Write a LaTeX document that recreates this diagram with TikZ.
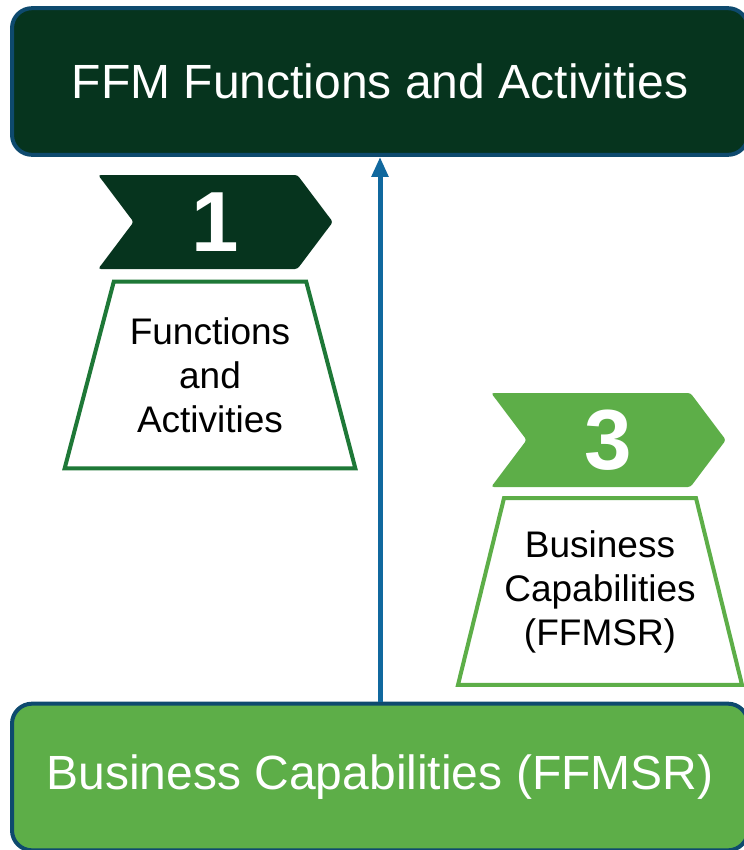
\documentclass[tikz,border=0pt]{standalone}
\usepackage{fontspec}
\setmainfont{Liberation Sans}
\usetikzlibrary{arrows.meta, shapes.geometric, shapes.symbols}
\definecolor{ffmdark}{RGB}{6,52,30}
\definecolor{ffmlight}{RGB}{93,174,72}
\definecolor{ffmmid}{RGB}{30,120,55}
\definecolor{ffmedge}{RGB}{14,74,110}
\definecolor{ffmarrow}{RGB}{16,104,158}

\tikzset{
  bigbox/.style={rectangle, rounded corners=15pt, draw=ffmedge, line width=3pt,
    minimum width=552pt, minimum height=110pt, text=white,
    font=\fontsize{36}{43}\selectfont},
  chevron/.style={signal, signal from=west, signal to=east, signal pointer angle=106,
    minimum width=176pt, minimum height=70.5pt, inner sep=0pt, rounded corners=2pt,
    text=white, font=\fontsize{64}{70}\selectfont\bfseries},
  stepcard/.style={trapezium, trapezium left angle=68.4, trapezium right angle=68.4,
    trapezium stretches body, minimum width=213pt, minimum height=140pt,
    inner xsep=0pt, line width=3pt, fill=white, align=center,
    font=\fontsize{27.75}{33}\selectfont},
}

\begin{document}
\begin{tikzpicture}[x=0.75pt, y=-0.75pt]
    \useasboundingbox (0,0) rectangle (743,850);

    % the two layers
    \node[bigbox, fill=ffmdark] (top) at (380,81.5) {FFM Functions and Activities};
    \node[bigbox, fill=ffmlight] (bot) at (380,777) {Business Capabilities (FFMSR)};

    % numbered steps
    \node[chevron, fill=ffmdark] (chev1) at (215.5,222) {1};
    \node[stepcard, draw=ffmmid, minimum width=218pt] (card1) at (210,375) {Functions\\and\\Activities};
    \node[chevron, fill=ffmlight] (chev3) at (608.5,440) {3};
    \node[stepcard, draw=ffmlight, trapezium left angle=70.7, trapezium right angle=70.7] (card3) at (600,591.5) {Business\\Capabilities\\(FFMSR)};

    % mapping arrow
    \draw[ffmarrow, line width=3.75pt, -{Triangle[width=12pt,length=15pt]}] (bot.north) -- (top.south);
\end{tikzpicture}
\end{document}
